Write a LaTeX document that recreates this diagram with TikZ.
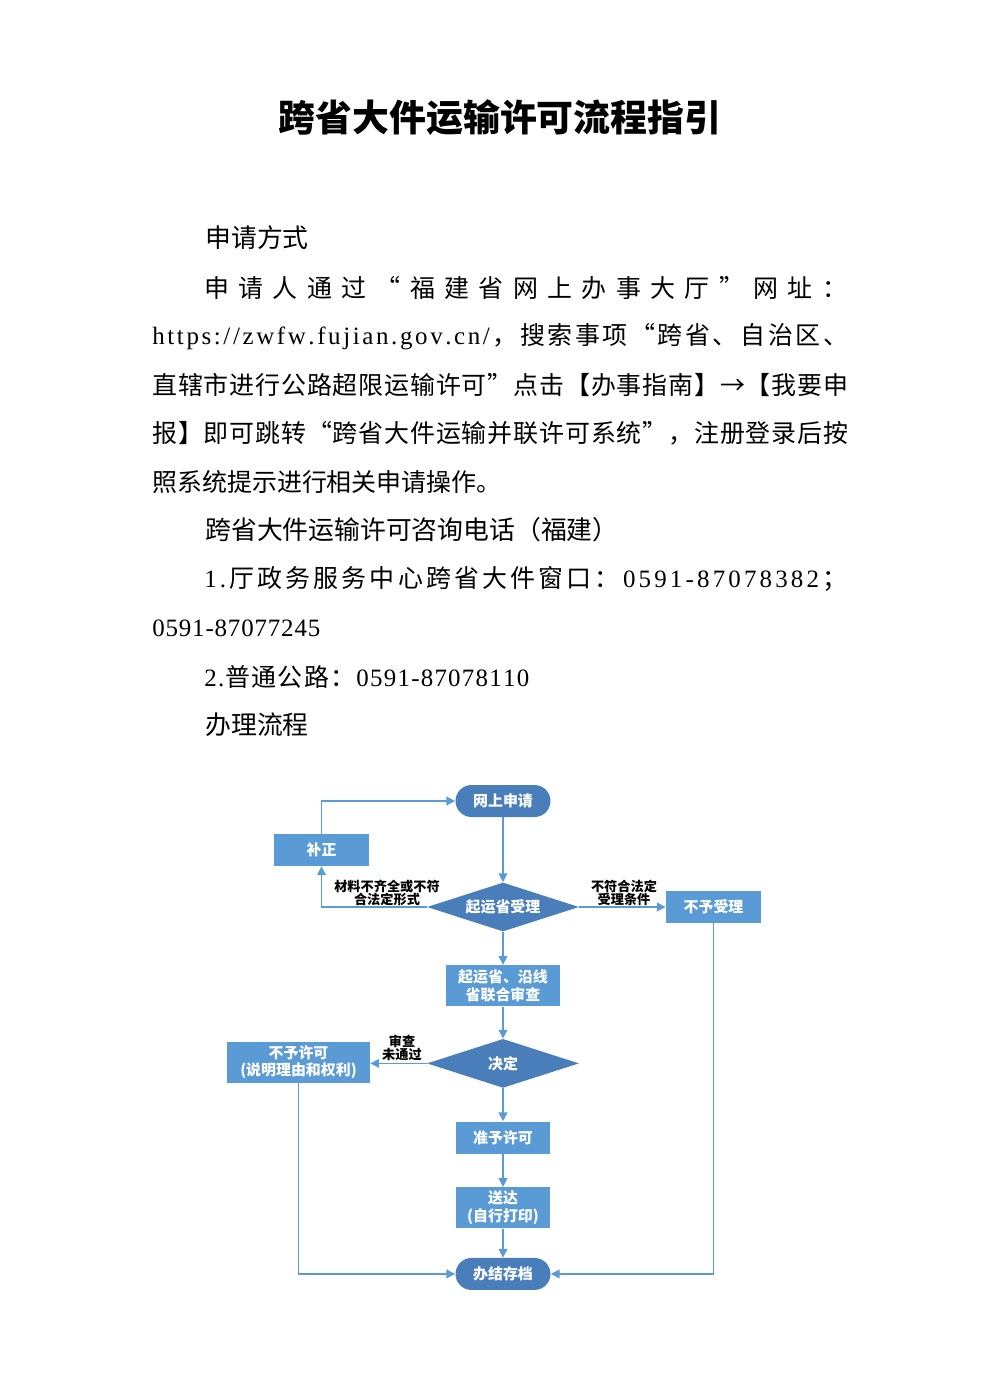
\documentclass[tikz,border=0pt]{standalone}
\usepackage{fontspec}
\setmainfont{Noto Sans CJK SC}
\newfontfamily\latn{Liberation Serif}
\usetikzlibrary{shapes.geometric, arrows.meta, positioning}
\usepackage{xcolor}
\definecolor{boxblue}{HTML}{5B9BD5}
\definecolor{darkblue}{HTML}{4A7EBB}
\definecolor{lineblue}{HTML}{5B9BD5}

% one line of text, characters spread to a given width
\ExplSyntaxOn
\NewDocumentCommand \spreadline { m m }
  {
    \hbox_to_wd:nn {#1}
      {
        \tl_map_inline:nn {#2}
          { \int_compare:nNnTF {`##1} < {256} { {\latn ##1} } { ##1 } \hfil }
        \unskip
      }
  }
\NewDocumentCommand \plainline { m }
  {
    \hbox:n
      {
        \tl_map_inline:nn {#1}
          { \int_compare:nNnTF {`##1} < {256} { {\latn ##1} } { ##1 } }
      }
  }
\ExplSyntaxOff

\tikzstyle{process}   = [rectangle, minimum width=1.9cm, minimum height=0.64cm,
                         text centered, align=center, fill=boxblue, text=white, inner sep=1pt,
                         font=\bfseries\fontsize{8.5pt}{10pt}\selectfont]
\tikzstyle{terminal}  = [process, rounded corners=0.32cm, fill=darkblue]
\tikzstyle{decision}  = [diamond, aspect=3.1, minimum width=3.04cm, minimum height=0.98cm, inner sep=0pt,
                         fill=darkblue, text=white, font=\bfseries\fontsize{8.5pt}{10pt}\selectfont]
\tikzstyle{flowlabel} = [align=center, inner sep=0pt, text=black,
                         font=\bfseries\fontsize{7.5pt}{7.8pt}\selectfont]
\tikzstyle{arrow}     = [line width=0.8pt, draw=lineblue, -{Triangle[length=5pt,width=5pt]}]
\tikzstyle{bodyline}  = [anchor=west, inner sep=0pt, font=\fontsize{14.2pt}{17pt}\selectfont]
\tikzstyle{heading}   = [anchor=west, inner sep=0pt, font=\fontsize{14.7pt}{17pt}\selectfont]

\begin{document}
\begin{tikzpicture}[x=0.02cm, y=-0.02cm]
  \useasboundingbox (0,0) rectangle (1000,1393);

  % --- Title ---
  \node (title) [font=\bfseries\fontsize{21pt}{24pt}\selectfont] at (500,118) {跨省大件运输许可流程指引};

  % --- Application ---
  \node (h_apply) [heading] at (205,238) {申请方式};
  \node (l1) [bodyline] at (204,288) {\spreadline{12.86cm}{申请人通过“福建省网上办事大厅”网址：}};
  \node (l2) [bodyline] at (152,337) {\spreadline{13.92cm}{https://zwfw.fujian.gov.cn/，搜索事项“跨省、自治区、}};
  \node (l3) [bodyline] at (152,385) {\spreadline{13.92cm}{直辖市进行公路超限运输许可”点击【办事指南】→【我要申}};
  \node (l4) [bodyline] at (152,433) {\spreadline{13.92cm}{报】即可跳转“跨省大件运输并联许可系统”，注册登录后按}};
  \node (l5) [bodyline] at (152,482) {\plainline{照系统提示进行相关申请操作。}};

  % --- Phone ---
  \node (h_phone) [heading] at (205,530) {跨省大件运输许可咨询电话（福建）};
  \node (p1) [bodyline] at (204,579) {\spreadline{12.86cm}{1.厅政务服务中心跨省大件窗口：0591-87078382；}};
  \node (p2) [bodyline] at (152,628) {\spreadline{3.36cm}{0591-87077245}};
  \node (p3) [bodyline] at (204,677) {\spreadline{6.5cm}{2.普通公路：0591-87078110}};

  % --- Flow ---
  \node (h_flow) [heading] at (205,725) {办理流程};

  \node (apply)   [terminal] at (503,801) {网上申请};
  \node (fix)     [process]  at (321.5,850) {补正};
  \node (accept)  [decision] at (503,907) {起运省受理};
  \node (reject)  [process]  at (713.5,907) {不予受理};
  \node (review)  [process, minimum width=2.28cm, minimum height=0.82cm,
                   below=0.66cm of accept] {起运省、沿线\\省联合审查};
  \node (decide)  [decision, below=0.64cm of review] {决定};
  \node (deny)    [process, minimum width=2.86cm, minimum height=0.82cm]
                   at (298.5,1062) {不予许可\\(说明理由和权利)};
  \node (grant)   [process, below=0.66cm of decide] {准予许可};
  \node (deliver) [process, minimum height=0.82cm, below=0.66cm of grant] {送达\\(自行打印)};
  \node (archive) [terminal, below=0.58cm of deliver] {办结存档};

  \node (lb_fix)    [flowlabel] at (387,893) {材料不齐全或不符\\合法定形式};
  \node (lb_reject) [flowlabel] at (624,893) {不符合法定\\受理条件};
  \node (lb_deny)   [flowlabel] at (402,1048) {审查\\未通过};

  % Arrows
  \draw[arrow] (apply) -- (accept);
  \draw[arrow] (accept.west) -| (fix.south);
  \draw[arrow] (fix.north) |- (apply.west);
  \draw[arrow] (accept.east) -- (reject.west);
  \draw[arrow] (reject.south) |- (archive.east);
  \draw[arrow] (accept) -- (review);
  \draw[arrow] (review) -- (decide);
  \draw[arrow] (decide.west) -- (decide.west -| deny.east);
  \draw[arrow] (deny.south) |- (archive.west);
  \draw[arrow] (decide) -- (grant);
  \draw[arrow] (grant) -- (deliver);
  \draw[arrow] (deliver) -- (archive);

\end{tikzpicture}
\end{document}
